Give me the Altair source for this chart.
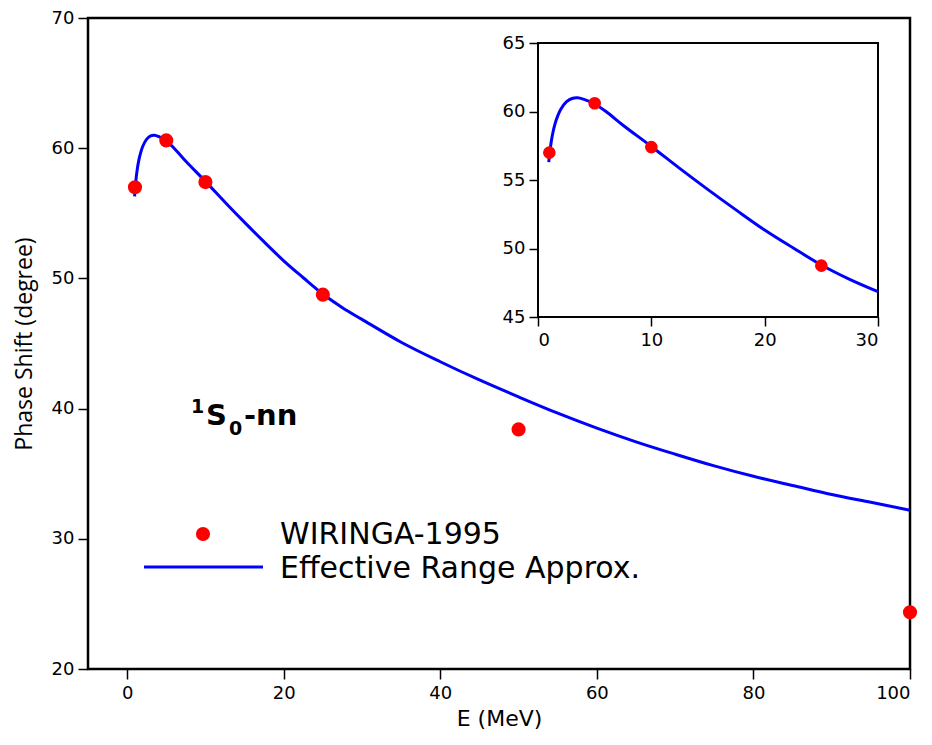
import altair as alt
import pandas as pd

# --- data ---
data_E = [1, 5, 10, 25, 50, 100]
data_delta = [57.0, 60.6, 57.4, 48.75, 38.4, 24.35]

curve_E = [0.95, 1.1, 1.25, 1.5, 1.75, 2.0, 2.5, 3.0, 3.5, 4.0, 5.0, 6.0, 7.5, 10,
           12.5, 15, 17.5, 20, 22.5, 25, 27.5, 30, 35, 40, 45, 50, 55, 60, 65,
           70, 75, 80, 85, 90, 95, 100]
curve_delta = [56.3, 57.4, 58.2, 59.1, 59.7, 60.15, 60.7, 60.95, 61.0, 60.9, 60.55,
               60.0, 59.0, 57.45, 55.85, 54.3, 52.8, 51.35, 50.05, 48.8, 47.75,
               46.85, 45.1, 43.6, 42.2, 40.9, 39.65, 38.5, 37.45, 36.5, 35.6,
               34.8, 34.1, 33.4, 32.8, 32.2]

main_x_ticks = [0, 20, 40, 60, 80, 100]
main_y_ticks = [20, 30, 40, 50, 60, 70]
inset_x_ticks = [0, 10, 20, 30]
inset_y_ticks = [45, 50, 55, 60, 65]

pts = pd.DataFrame({"E": data_E, "delta": data_delta})
crv = pd.DataFrame({"E": curve_E, "delta": curve_delta})
pts_in = pts[pts["E"] <= 30]
crv_in = crv[crv["E"] <= 30]
frame_main = pd.DataFrame({"E": [-5], "E2": [100], "delta": [20], "delta2": [70]})
frame_in = pd.DataFrame({"E": [0], "E2": [30], "delta": [45], "delta2": [65]})
one = pd.DataFrame({"k": [0]})

FONT = "DejaVu Sans"
W, H = 822, 651

# --- main plot ---
mx = alt.X("E:Q", scale=alt.Scale(domain=[-5, 100], nice=False, zero=False),
           axis=alt.Axis(values=main_x_ticks, title="E (MeV)", orient="bottom",
                         grid=False, domain=False, tickSize=10, tickWidth=1.5,
                         tickColor="black", labelFontSize=18, labelFont=FONT,
                         labelColor="black", labelPadding=5, titleFontSize=22,
                         titleFont=FONT, titleFontWeight="normal", titleColor="black",
                         titlePadding=6))
my = alt.Y("delta:Q", scale=alt.Scale(domain=[20, 70], nice=False, zero=False),
           axis=alt.Axis(values=main_y_ticks, title="Phase Shift (degree)", orient="left",
                         grid=False, domain=False, tickSize=10, tickWidth=1.5,
                         tickColor="black", labelFontSize=18, labelFont=FONT,
                         labelColor="black", labelPadding=4, titleFontSize=23,
                         titleFont="Open Sans", titleFontWeight="normal",
                         titleColor="black", titlePadding=15))

main_frame = alt.Chart(frame_main).mark_rect(filled=False, stroke="black",
                                             strokeWidth=2.5).encode(
    x=mx, x2="E2:Q", y=my, y2="delta2:Q")
main_line = alt.Chart(crv).mark_line(color="#0000ff", strokeWidth=3,
                                      interpolate="catmull-rom").encode(x=mx, y=my)
main_pts = alt.Chart(pts).mark_circle(color="#ff0000", size=200, opacity=1).encode(x=mx, y=my)
main = alt.layer(main_frame, main_line, main_pts)

# --- inset ---
ix_axis = alt.Axis(values=inset_x_ticks, title=None, orient="bottom", offset=-352,
                   grid=False, domain=False, tickSize=9, tickWidth=1.5,
                   tickColor="black", labelFontSize=18, labelFont=FONT,
                   labelColor="black", labelPadding=5)
iy_axis = alt.Axis(values=inset_y_ticks, title=None, orient="left", offset=-450,
                   grid=False, domain=False, tickSize=9, tickWidth=1.5,
                   tickColor="black", labelFontSize=18, labelFont=FONT,
                   labelColor="black", labelPadding=4)
ix_scale = alt.Scale(domain=[0, 30], range=[450, 790], nice=False, zero=False)
iy_scale = alt.Scale(domain=[45, 65], range=[299, 25], nice=False, zero=False)

ix = alt.X("E:Q", scale=ix_scale, axis=ix_axis)
iy = alt.Y("delta:Q", scale=iy_scale, axis=iy_axis)

inset_frame = alt.Chart(frame_in).mark_rect(filled=False, stroke="black",
                                            strokeWidth=2).encode(
    x=ix, x2="E2:Q", y=iy, y2="delta2:Q")
inset_line = alt.Chart(crv_in).mark_line(color="#0000ff", strokeWidth=3,
                                          interpolate="catmull-rom").encode(x=ix, y=iy)
inset_pts = alt.Chart(pts_in).mark_circle(color="#ff0000", size=160, opacity=1).encode(x=ix, y=iy)
inset = alt.layer(inset_frame, inset_line, inset_pts)

# --- legend (manual) ---
leg_dot = alt.Chart(one).mark_circle(color="#ff0000", size=200, opacity=1).encode(
    x=alt.value(115), y=alt.value(516))
leg_line = alt.Chart(one).mark_rule(color="#0000ff", strokeWidth=3).encode(
    x=alt.value(56), x2=alt.value(175), y=alt.value(549))
leg_t1 = alt.Chart(one).mark_text(text="WIRINGA-1995", align="left", baseline="alphabetic",
                                  fontSize=30, font=FONT, color="black").encode(
    x=alt.value(192), y=alt.value(526))
leg_t2 = alt.Chart(one).mark_text(text="Effective Range Approx.", align="left",
                                  baseline="alphabetic", fontSize=30, font=FONT,
                                  color="black").encode(x=alt.value(192), y=alt.value(560))

# --- annotation 1S0-nn ---
ann_1 = alt.Chart(one).mark_text(text="1", align="left", baseline="alphabetic",
                                 fontSize=19, font=FONT, fontWeight="bold",
                                 color="black").encode(x=alt.value(103), y=alt.value(395))
ann_S = alt.Chart(one).mark_text(text="S", align="left", baseline="alphabetic",
                                 fontSize=29, font=FONT, fontWeight="bold",
                                 color="black").encode(x=alt.value(118), y=alt.value(407))
ann_0 = alt.Chart(one).mark_text(text="0", align="left", baseline="alphabetic",
                                 fontSize=19, font=FONT, fontWeight="bold",
                                 color="black").encode(x=alt.value(141), y=alt.value(417))
ann_nn = alt.Chart(one).mark_text(text="-nn", align="left", baseline="alphabetic",
                                  fontSize=29, font=FONT, fontWeight="bold",
                                  color="black").encode(x=alt.value(156), y=alt.value(407))

chart = alt.layer(
    main, inset, leg_dot, leg_line, leg_t1, leg_t2, ann_1, ann_S, ann_0, ann_nn
).resolve_scale(x="independent", y="independent").properties(
    width=W, height=H,
    autosize=alt.AutoSizeParams(type="none"),
    padding={"left": 80, "top": 10, "right": 14, "bottom": 68},
).configure_view(stroke="black", strokeWidth=2).configure(background="white")

chart.save("out.html", embed_options={"renderer": "svg", "actions": False})
